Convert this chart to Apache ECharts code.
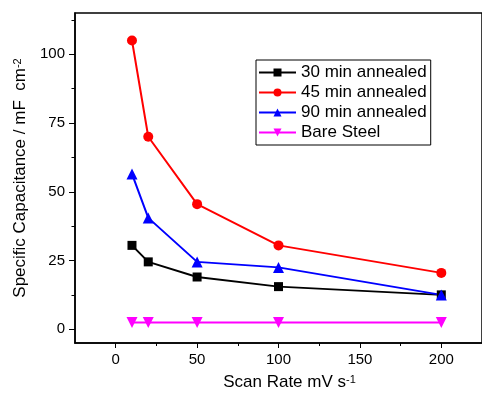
<!DOCTYPE html>
<html>
<head>
<meta charset="utf-8">
<script src="https://cdn.jsdelivr.net/npm/echarts@6/dist/echarts.min.js"></script>
<style>
  html, body { margin: 0; padding: 0; background: #fff; }
  #main { width: 482px; height: 399px; }
</style>
</head>
<body>
<div id="main"></div>
<script>
// scan rates (mV/s)
var scanRates = [10, 20, 50, 100, 200];
// specific capacitance (mF/cm2)
var cap30 = [30.5, 24.5, 19, 15.5, 12.5];
var cap45 = [105, 70, 45.5, 30.5, 20.5];
var cap90 = [56.5, 40.5, 24.5, 22.5, 12.5];
var capBare = [2.5, 2.5, 2.5, 2.5, 2.5];

var xMajor = [0, 50, 100, 150, 200];
var xMinor = [25, 75, 125, 175];
var yMajor = [0, 25, 50, 75, 100];
var yMinor = [12.5, 37.5, 62.5, 87.5, 112.5];

function pairs(ys) {
  return scanRates.map(function (x, i) { return [x, ys[i]]; });
}

var font = 'Liberation Sans, Arial, sans-serif';
var myChart = echarts.init(document.getElementById('main'));

function lineSeries(name, data, color, symbol, size, rotate) {
  return {
    name: name,
    type: 'line',
    data: pairs(data),
    color: color,
    symbol: symbol,
    symbolSize: size,
    symbolRotate: rotate || 0,
    lineStyle: { width: 2, color: color },
    itemStyle: { color: color },
    xAxisIndex: 0,
    yAxisIndex: 0,
    animation: false
  };
}

var option = {
  animation: false,
  grid: {
    left: 75, top: 13, right: -5.5, bottom: 56,
    show: true, borderColor: '#000', borderWidth: 1.5,
    containLabel: false
  },
  legend: {
    orient: 'vertical',
    left: 256, top: 60,
    padding: [4, 4, 4, 2],
    borderColor: '#000', borderWidth: 1,
    itemWidth: 37, itemHeight: 10, itemGap: 3,
    textStyle: { fontFamily: font, fontSize: 17, color: '#000' },
    data: ['30 min annealed', '45 min annealed', '90 min annealed', 'Bare Steel']
  },
  xAxis: [
    {
      type: 'value', min: -25, max: 225,
      name: 'Scan Rate mV s{sup|-1}',
      nameLocation: 'middle', nameGap: 31,
      nameTextStyle: {
        fontFamily: font, fontSize: 17, color: '#000', padding: [0, 0, 0, 22],
        rich: { sup: { fontSize: 11, verticalAlign: 'top', lineHeight: 11 } }
      },
      axisLine: { show: true, onZero: false, lineStyle: { color: '#000', width: 1.5 } },
      axisTick: { show: true, inside: false, length: 5, customValues: xMajor, lineStyle: { color: '#000', width: 1 } },
      axisLabel: { show: true, margin: 9, customValues: xMajor, fontFamily: font, fontSize: 15, color: '#000' },
      splitLine: { show: false }
    },
    {
      type: 'value', min: -25, max: 225, position: 'bottom',
      axisLine: { show: false, onZero: false },
      axisTick: { show: true, length: 3, customValues: xMinor, lineStyle: { color: '#000', width: 1 } },
      axisLabel: { show: false },
      splitLine: { show: false }
    }
  ],
  yAxis: [
    {
      type: 'value', min: -5, max: 115,
      name: 'Specific Capacitance / mF  cm{sup|-2}',
      nameLocation: 'middle', nameGap: 44,
      nameTextStyle: {
        fontFamily: font, fontSize: 17, color: '#000',
        rich: { sup: { fontSize: 11, verticalAlign: 'top', lineHeight: 11 } }
      },
      axisLine: { show: true, onZero: false, lineStyle: { color: '#000', width: 1.5 } },
      axisTick: { show: true, inside: false, length: 6, customValues: yMajor, lineStyle: { color: '#000', width: 1 } },
      axisLabel: { show: true, margin: 10, customValues: yMajor, fontFamily: font, fontSize: 15, color: '#000' },
      splitLine: { show: false }
    },
    {
      type: 'value', min: -5, max: 115, position: 'left',
      axisLine: { show: false, onZero: false },
      axisTick: { show: true, length: 3.5, customValues: yMinor, lineStyle: { color: '#000', width: 1 } },
      axisLabel: { show: false },
      splitLine: { show: false }
    }
  ],
  series: [
    lineSeries('30 min annealed', cap30, '#000000', 'rect', 9),
    lineSeries('45 min annealed', cap45, '#ff0000', 'circle', 10),
    lineSeries('90 min annealed', cap90, '#0000ff', 'triangle', 11),
    lineSeries('Bare Steel', capBare, '#ff00ff', 'triangle', 11, 180)
  ]
};
myChart.setOption(option);
</script>
</body>
</html>
